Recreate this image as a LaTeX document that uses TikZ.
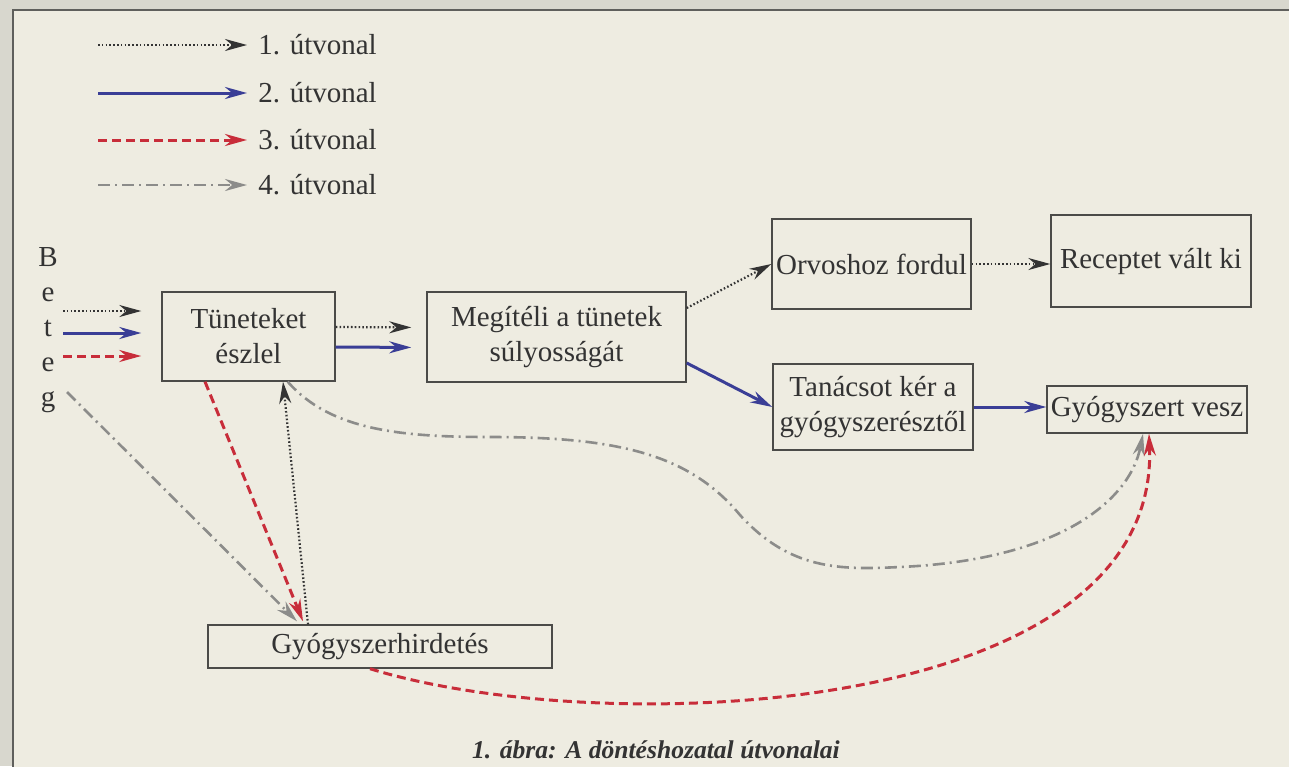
\documentclass[tikz,border=0pt]{standalone}
\usepackage{fontspec}
\setmainfont{Liberation Serif}
\usetikzlibrary{arrows.meta,calc,positioning}
\definecolor{paper}{RGB}{238,236,225}
\definecolor{strip}{RGB}{216,215,206}
\definecolor{frameline}{RGB}{95,95,92}
\definecolor{boxline}{RGB}{75,75,72}
\definecolor{inkblue}{RGB}{58,62,150}
\definecolor{inkred}{RGB}{200,45,58}
\definecolor{inkgrey}{RGB}{140,140,138}
\tikzset{
	box/.style={draw=boxline, line width=0.7pt, align=center, inner sep=0pt, text=black!80,
		font=\fontsize{14.5}{17.5}\selectfont},
	tip/.style={-{Stealth[length=11pt,width=6pt]}},
	dotroute/.style={tip, black!80, line width=1.1pt, dash pattern=on 0.8pt off 1.1pt},
	blueroute/.style={tip, inkblue, line width=1.5pt},
	redroute/.style={tip, inkred, line width=1.5pt, dash pattern=on 4.5pt off 2.5pt},
	greyroute/.style={tip, inkgrey, line width=1.3pt, dash pattern=on 6pt off 2.5pt on 1pt off 2.5pt},
	label/.style={inner sep=0pt, text=black!80, font=\fontsize{14.5}{17.5}\selectfont}
}

\begin{document}
\begin{tikzpicture}[x=0.5pt, y=-0.5pt]
			%%%%% PAGE %%%%%
			\useasboundingbox (0,0) rectangle (1289,766);
			\clip (0,0) rectangle (1289,766);
			\fill[strip] (0,0) rectangle (1289,766);
			\fill[paper] (13,10) rectangle (1300,780);
			\draw[frameline, line width=0.9pt] (13,780) -- (13,10) -- (1300,10);
			
			%%%%% LEGEND %%%%%
			\foreach \sty/\y/\n in {dotroute/45/1, blueroute/93/2, redroute/140/3, greyroute/185/4} {
				\coordinate (legstart\n) at (98,\y);
				\node[label, anchor=west] (leg\n) at (258,\y) {\n. útvonal};
				\draw[\sty, shorten >=5.5pt] (legstart\n) -- (leg\n.west);
			}
			
			%%%%% BOXES %%%%%
			\node[label, align=center] (beteg) at (48,330) {B\\e\\t\\e\\g};
			\node[box, minimum width=86.5pt, minimum height=44.5pt] (tun) at (248.5,336.5) {Tüneteket\\észlel};
			\node[box, minimum width=129.5pt, minimum height=45pt] (meg) at (556.5,337) {Megítéli a tünetek\\súlyosságát};
			\node[box, minimum width=99.5pt, minimum height=45pt] (orv) at (871.5,264) {Orvoshoz fordul};
			\node[box, minimum width=100pt, minimum height=46pt] (rec) at (1151,261) {Receptet vált ki};
			\node[box, minimum width=100pt, minimum height=43pt] (tan) at (873,407) {Tanácsot kér a\\gyógyszerésztől};
			\node[box, minimum width=100pt, minimum height=23.5pt] (gyv) at (1147,409.5) {Gyógyszert vesz};
			\node[box, minimum width=172pt, minimum height=21.5pt] (gyh) at (380,646.5) {Gyógyszerhirdetés};
			
			%%%%% ROUTES %%%%%
			\coordinate (b1) at (63,311);
			\coordinate (b2) at (63,333);
			\coordinate (b3) at (63,356);
			\coordinate (gstart) at (67,392);
			\draw[dotroute, shorten >=10pt] (b1) -- (b1 -| tun.west);
			\draw[blueroute, shorten >=10pt] (b2) -- (b2 -| tun.west);
			\draw[redroute, shorten >=10pt] (b3) -- (b3 -| tun.west);
			
			\draw[dotroute, shorten >=7.5pt] ($(tun.east)+(0,-9.5)$) -- ($(meg.west)+(0,-9.5)$);
			\draw[blueroute, shorten >=7.5pt] ($(tun.east)+(0,10.5)$) -- ($(meg.west)+(0,10.5)$);
			
			\draw[dotroute] ($(meg.east)+(0,-29)$) -- (orv.west);
			\draw[blueroute] ($(meg.east)+(0,26)$) -- (tan.west);
			\draw[dotroute] (orv.east) -- (orv.east -| rec.west);
			\draw[blueroute] (tan.east) -- (tan.east -| gyv.west);
			
			\draw[redroute] ($(tun.south)+(-43.5,0)$) -- ($(gyh.north)+(-77,-3)$);
			\draw[greyroute] (gstart) -- ($(gyh.north)+(-83,-3)$);
			\draw[dotroute] ($(gyh.north)+(-72,0)$) -- ($(tun.south)+(34.5,0)$);
			
			\draw[greyroute] ($(tun.south east)+(-48,0)$) .. controls (330,430) and (400,437) .. (490,437)
				.. controls (620,437) and (690,455) .. (740,515)
				.. controls (790,570) and (840,570) .. (900,567)
				.. controls (1060,560) and (1130,500) .. ($(gyv.south)+(-4,0)$);
			\draw[redroute] ($(gyh.south)+(-10,0)$) .. controls (600,740) and (1160,720) .. ($(gyv.south)+(2,0)$);
			
			%%%%% CAPTION %%%%%
			\node[label, font=\bfseries\itshape\fontsize{12.8}{16}\selectfont] (cap) at (656,750) {1. ábra: A döntéshozatal útvonalai};
\end{tikzpicture}
\end{document}
